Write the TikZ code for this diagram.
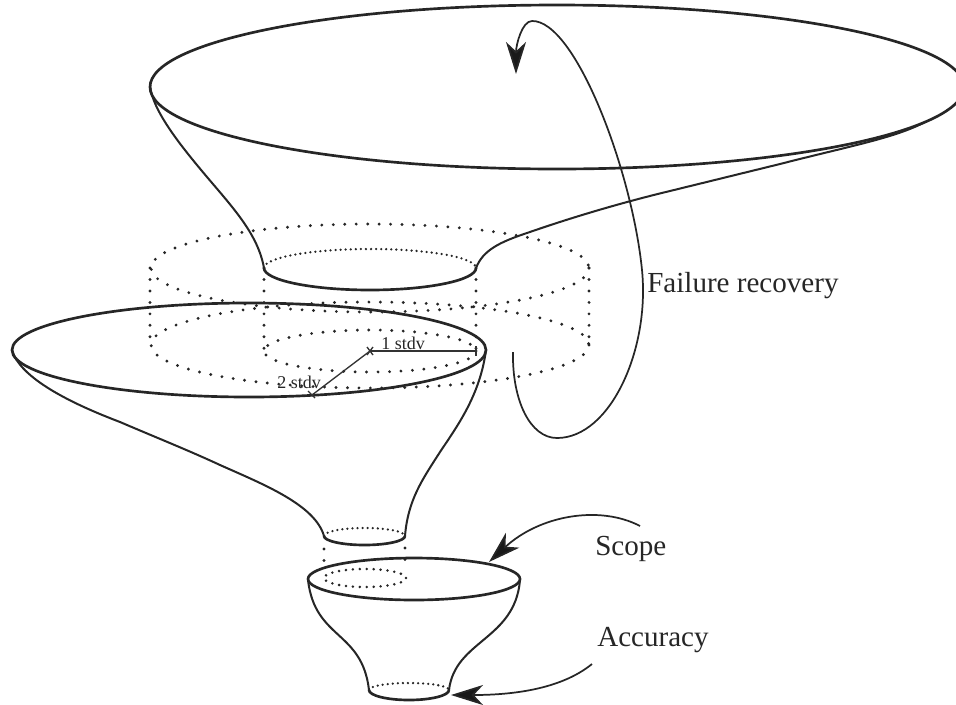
\documentclass[tikz,border=0pt]{standalone}
\usepackage{fontspec}
\setmainfont{Liberation Serif}
\usetikzlibrary{arrows.meta}
\tikzset{
  solidline/.style={line width=1.5pt,black!85,line cap=round},
  thickrim/.style={line width=2pt,black!85},
  dots/.style={line width=2.4pt,black!85,line cap=round,dash pattern=on 0pt off 8.6pt},
  tightdots/.style={line width=2.1pt,black!85,line cap=round,dash pattern=on 0pt off 5.2pt},
  densedots/.style={line width=1.9pt,black!85,line cap=round,dash pattern=on 0pt off 3.8pt},
  arrowline/.style={line width=1.3pt,black!85,-{Stealth[length=24pt,width=15pt,inset=7pt,fill=black!90]}},
  measure/.style={line width=1pt,black!80},
  biglabel/.style={font=\fontsize{21.8}{25}\selectfont,text=black!85,inner sep=0pt},
  smalllabel/.style={font=\fontsize{13.5}{15}\selectfont,text=black!85,inner sep=0pt}
}
\begin{document}
\begin{tikzpicture}[x=0.75pt,y=-0.75pt]
\useasboundingbox (0,0) rectangle (956,704);
\begin{scope}
\clip (0,0) rectangle (956,704);
% top funnel
\draw[thickrim] (557,87) ellipse [x radius=407, y radius=82];
\draw[solidline] (150,85) .. controls (152,110) and (180,145) .. (207,177)
  .. controls (235,210) and (258,235) .. (264,268);
\draw[solidline] (476,268) .. controls (483,250) and (500,242) .. (527,233)
  .. controls (570,218) and (620,203) .. (670,191) -- (780,164)
  .. controls (850,146) and (895,138) .. (925,122);
\draw[thickrim] (264,268) arc [start angle=180, end angle=0, x radius=106, y radius=22];
\draw[densedots] (264,268) arc [start angle=180, end angle=360, x radius=106, y radius=19];
% dotted cylinder
\draw[dots] (370,268) ellipse [x radius=219, y radius=44];
\draw[dots] (370,345) ellipse [x radius=219, y radius=43];
\draw[dots] (150,268) -- (150,345);
\draw[dots] (589,268) -- (589,345);
\draw[dots] (264,268) -- (264,351);
\draw[dots] (476,268) -- (476,351);
\draw[dots] (370,351) ellipse [x radius=106, y radius=21];
% middle funnel
\draw[solidline] (12,350) .. controls (20,378) and (70,403) .. (120,422)
  .. controls (155,437) and (190,451) .. (220,465)
  .. controls (265,485) and (315,505) .. (324,536);
\draw[solidline] (486,350) .. controls (480,395) and (458,425) .. (440,452)
  .. controls (422,480) and (408,500) .. (405,536);
\draw[thickrim] (249,350) ellipse [x radius=237, y radius=47];
\draw[thickrim] (324,536) arc [start angle=180, end angle=0, x radius=40.5, y radius=9];
\draw[densedots] (324,536) arc [start angle=180, end angle=360, x radius=40.5, y radius=8];
\draw[dots] (324,549) -- (324,562);
\draw[dots] (405,548) -- (405,570);
% bottom funnel
\draw[thickrim] (414,579) ellipse [x radius=106, y radius=21];
\draw[tightdots] (365,578) ellipse [x radius=41, y radius=9];
\draw[solidline] (308,580) .. controls (315,640) and (362,630) .. (369,690);
\draw[solidline] (520,580) .. controls (515,640) and (455,640) .. (449,690);
\draw[thickrim] (369,690) arc [start angle=180, end angle=0, x radius=40, y radius=10];
\draw[densedots] (369,690) arc [start angle=180, end angle=360, x radius=40, y radius=7];
\end{scope}
% measures
\coordinate (c) at (370,351);
\coordinate (r1) at (476,351);
\coordinate (r2) at (312,395);
\draw[measure] (c) -- (r1);
\draw[measure] (c) -- (r2);
\draw[measure] (367,347) -- (373,355) (367,355) -- (373,347);
\draw[measure] (476,346) -- (476,356);
\draw[measure] (308,391) -- (315,398);
\node[smalllabel] (one) at (403,343) {1 stdv};
\node[smalllabel] (two) at (299,382) {2 stdv};
% recovery arrow
\coordinate (fr0) at (513,352);
\coordinate (frtip) at (516,74);
\draw[arrowline] (fr0) .. controls (512,400) and (530,438) .. (557,438)
  .. controls (610,438) and (650,350) .. (642,270)
  .. controls (632,170) and (575,20) .. (532,21)
  .. controls (522,21) and (516,45) .. (frtip);
% labels and arrows
\node[biglabel,anchor=west] (fail) at (647,286) {Failure recovery};
\node[biglabel,anchor=west] (scope) at (595,549) {Scope};
\node[biglabel,anchor=west] (acc) at (597,640) {Accuracy};
\coordinate (s0) at (640,526);
\coordinate (stip) at (489,562);
\coordinate (a0) at (592,664);
\coordinate (atip) at (451,695);
\draw[arrowline] (s0) .. controls (600,505) and (540,515) .. (stip);
\draw[arrowline] (a0) .. controls (560,690) and (510,695) .. (atip);
\end{tikzpicture}
\end{document}
